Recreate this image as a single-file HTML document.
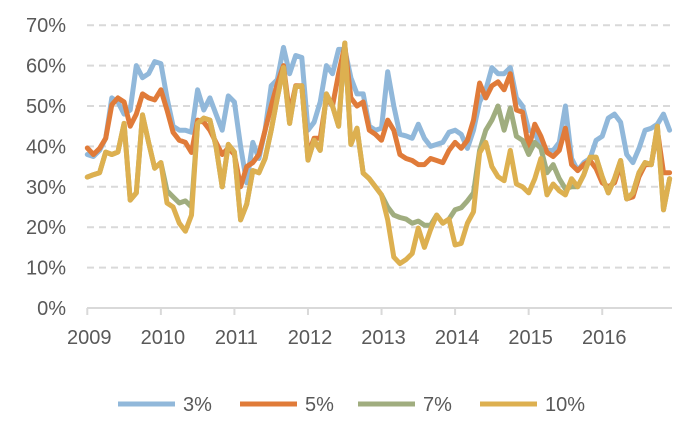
<!DOCTYPE html>
<html><head><meta charset="utf-8"><style>
html,body{margin:0;padding:0;background:#fff;}
svg text{font-family:"Liberation Sans",sans-serif;fill:#595959;}
</style></head><body>
<svg id="chart" width="687" height="420" xmlns="http://www.w3.org/2000/svg">
<g id="grid"></g><g id="axes"></g><g id="series"></g><g id="legend"></g>
</svg>
<script>
const yTicks=[0,10,20,30,40,50,60,70];
const yearLabels=["2009","2010","2011","2012","2013","2014","2015","2016"];
const seriesNames=["3%","5%","7%","10%"];
const s3=[38,37.5,39,42,52,51,48,49,60,57,58,61,
60.5,52,45,44,44,43.5,54,49,52,48,44,52.5,
51,40,31,41,37,44,55,56.5,64.5,58,62.5,62,
44,46,51,60,58,64,64,57,53,53,45,44,
44.5,58.5,50,43,42.6,42,45.5,42,40,40.5,41,43.5,
44,43,39.5,44,51,54,59.5,58,58,59.5,52,50,
44,43.5,39.5,39,39,41,50,37,34,36,37,41.5,
42.5,47,48,46,38,36,39.5,44,44.5,45.5,48,44];
const s5=[39.6,38,39.5,42,50.3,52,51,45,48,53,52,51.5,
54,49,43.5,41.5,41,38.5,46.5,46,44,41,38,39.6,
38,30,35,36,38,44,50,55.5,60,48,55,55,
38,42,42,52,50,58,65,52,50,51,44,43,
41.5,46.5,44,38,37,36.5,35.5,35.5,37,36.5,36,39,
41,39.5,41.5,46.5,55.7,52,55,56,54,58,49,48.5,
39.5,45.5,42.5,38.5,37.5,39,44.5,35.5,34,35.5,36.5,34.5,
31,30,31,35.5,27,27.5,32.5,35.5,35.5,44,33.5,33.5];
const s7=[32.4,33,33.5,38.6,38,38.6,45.7,26.7,28.5,47.8,41,34.6,
36,29,27.5,26,26.5,25,45.7,47,46.5,40,30,40.5,
38.6,21.8,25.7,34,33.5,37,44,52,59.5,45.7,54.8,55,
36.6,41.5,39,53,50,45,65.6,40.5,44.5,33.4,32,30,
28,25,23,22.4,22,21,21.5,20.5,20.5,23,21,22,
24.3,24.8,26.5,28.5,39,44,46.5,50,44,49.5,42.5,41.5,
38,41,39.5,33.5,35.5,32,29.5,30,30,33,37.3,37.3,
32.5,28.5,32,36.5,27,28.5,33.5,36,35.5,45,24.3,32];
const s10=[32.4,33,33.5,38.6,38,38.6,45.7,26.7,28.5,47.8,41,34.6,
36,26,25,21,19,23,45.7,47,46.5,40,30,40.5,
38.6,21.8,25.7,34,33.5,37,44,52,59.5,45.7,54.8,55,
36.6,41.5,39,53,50,45,65.6,40.5,44.5,33.4,32,30,
28,21.8,12.6,11,12,13.5,19.8,15,19.4,23,21,22,
15.6,16,21,23.8,38.4,41,35,32.5,31.5,39,30.7,30,
28.5,32,37,28,30.7,29,28,32,30,33,37.3,37.3,
32.5,28.5,32,36.5,27,28.5,33.5,36,35.5,45,24.3,32];
const colors=["#91B8DA","#E07B39","#A0AD7F","#DDB050"];
const NS="http://www.w3.org/2000/svg";
const x0=87.3, xStep=6.13, yBase=308, yPer=4.04;
function xPos(i){return x0+i*xStep;}
function yPos(v){return yBase-v*yPer;}
function mk(tag,attrs,parent){const e=document.createElementNS(NS,tag);for(const k in attrs)e.setAttribute(k,attrs[k]);parent.appendChild(e);return e;}
const grid=document.getElementById('grid'),axes=document.getElementById('axes'),ser=document.getElementById('series'),leg=document.getElementById('legend');
yTicks.forEach(t=>{
  if(t>0){const l=mk('line',{x1:87,x2:672,y1:yPos(t),y2:yPos(t),stroke:'#D9D9D9','stroke-width':2,'stroke-dasharray':'7,5'},grid);
  
  }
  const tx=mk('text',{x:66,y:yPos(t)+7,'text-anchor':'end','font-size':20},axes);tx.textContent=t+'%';
  
  
});
const ax=mk('line',{x1:87,x2:672,y1:yBase,y2:yBase,stroke:'#D9D9D9','stroke-width':2},axes);


yearLabels.forEach((y,k)=>{
  const xt=x0+k*12*xStep;
  const tk=mk('line',{x1:xt,x2:xt,y1:yBase,y2:yBase+7,stroke:'#D9D9D9','stroke-width':2},axes);
  
  
  const tx=mk('text',{x:xt+2,y:344,'text-anchor':'middle','font-size':20},axes);tx.textContent=y;
  
  
});
[s3,s5,s7,s10].forEach((d,si)=>{
  const p=mk('polyline',{points:d.map((v,i)=>xPos(i).toFixed(1)+','+yPos(v).toFixed(1)).join(' '),fill:'none',stroke:colors[si],'stroke-width':5,'stroke-linejoin':'round','stroke-linecap':'round'},ser);
  
  
});
const legX=[118,240,358,480];
seriesNames.forEach((n,si)=>{
  const l=mk('line',{x1:legX[si],x2:legX[si]+57,y1:404,y2:404,stroke:colors[si],'stroke-width':5},leg);
  
  
  const t=mk('text',{x:legX[si]+65,y:411,'font-size':20},leg);t.textContent=n;
  
  
});
</script>
</body></html>
